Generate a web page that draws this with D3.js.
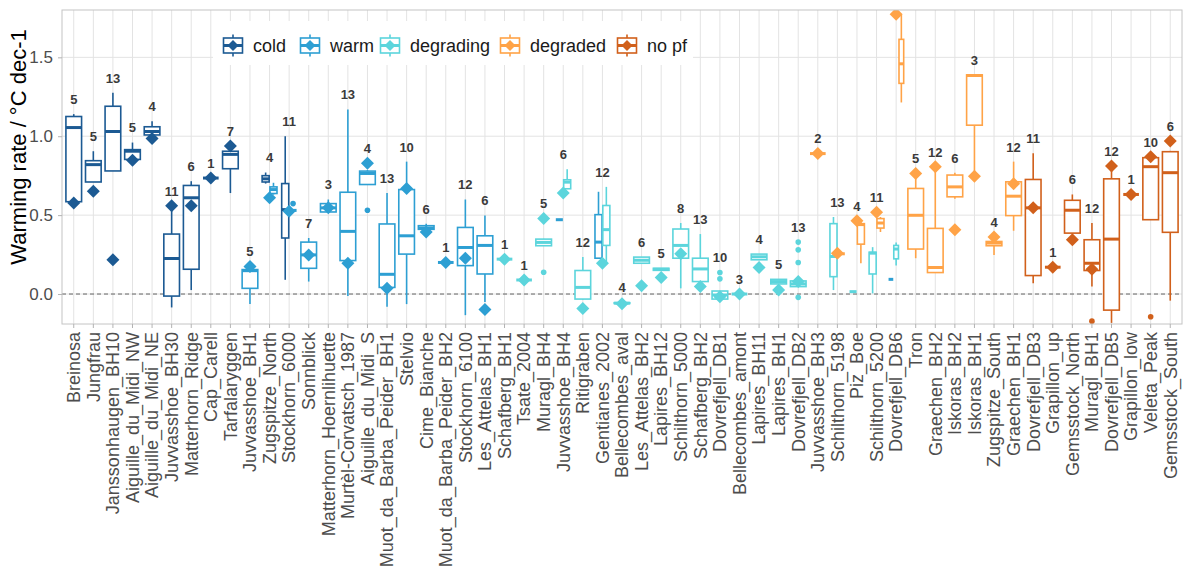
<!DOCTYPE html>
<html>
<head>
<meta charset="utf-8">
<script src="https://cdn.jsdelivr.net/npm/d3@7"></script>
<style>
  body { margin: 0; background: #fff; }
  svg text { font-family: "Liberation Sans", Arial, Helvetica, sans-serif; }
</style>
</head>
<body>
<svg id="chart" width="1184" height="567"></svg>
<script>
const classes = ['cold', 'warm', 'degrading', 'degraded', 'no pf'];
const classColors = ['#1c5a93', '#2d9fd3', '#5cd5dc', '#ffa347', '#d1601b'];

const sites = [
  'Breinosa', 'Jungfrau', 'Janssonhaugen_BH10', 'Aiguille_du_Midi_NW', 'Aiguille_du_Midi_NE',
  'Juvvasshoe_BH30', 'Matterhorn_Ridge', 'Cap_Carell', 'Tarfalaryggen', 'Juvvasshoe_BH1',
  'Zugspitze_North', 'Stockhorn_6000', 'Sonnblick', 'Matterhorn_Hoernlihuette', 'Murtèl-Corvatsch_1987',
  'Aiguille_du_Midi_S', 'Muot_da_Barba_Peider_BH1', 'Stelvio', 'Cime_Bianche', 'Muot_da_Barba_Peider_BH2',
  'Stockhorn_6100', 'Les_Attelas_BH1', 'Schafberg_BH1', 'Tsate_2004', 'Muragl_BH4',
  'Juvvasshoe_BH4', 'Ritigraben', 'Gentianes_2002', 'Bellecombes_aval', 'Les_Attelas_BH2',
  'Lapires_BH12', 'Schilthorn_5000', 'Schafberg_BH2', 'Dovrefjell_DB1', 'Bellecombes_amont',
  'Lapires_BH11', 'Lapires_BH1', 'Dovrefjell_DB2', 'Juvvasshoe_BH3', 'Schilthorn_5198',
  'Piz_Boe', 'Schilthorn_5200', 'Dovrefjell_DB6', 'Tron', 'Graechen_BH2',
  'Iskoras_BH2', 'Iskoras_BH1', 'Zugspitze_South', 'Graechen_BH1', 'Dovrefjell_DB3',
  'Grapillon_up', 'Gemsstock_North', 'Muragl_BH1', 'Dovrefjell_DB5', 'Grapillon_low',
  'Veleta_Peak', 'Gemsstock_South'
];

// number of years per site (label above each site)
const siteCounts = [
  5, 5, 13, 5, 4, 11, 6, 1, 7, 5,
  4, 11, 7, 3, 13, 4, 13, 10, 6, 1,
  12, 6, 1, 1, 5, 6, 12, 12, 4, 6,
  5, 8, 13, 10, 3, 4, 5, 13, 2, 13,
  4, 11, null, 5, 12, 6, 3, 4, 12, 11,
  1, 6, 12, 12, 1, 10, 6
];

// diamond marker per site
const diamondValues = [
  0.577, 0.652, 0.217, 0.847, 0.985, 0.56, 0.56, 0.735, 0.938, 0.174,
  0.61, 0.524, 0.248, 0.546, 0.195, 0.828, 0.036, 0.669, 0.393, 0.2,
  0.227, -0.098, 0.221, 0.089, 0.478, 0.641, -0.091, 0.195, -0.062, 0.053,
  0.104, 0.255, 0.047, -0.017, 0.0, 0.168, 0.025, 0.079, 0.89, 0.258,
  0.465, 0.518, 1.773, 0.764, 0.807, 0.408, 0.747, 0.361, 0.699, 0.546,
  0.17, 0.344, 0.157, 0.811, 0.631, 0.87, 0.97
];
const diamondClasses = [
  'cold', 'cold', 'cold', 'cold', 'cold', 'cold', 'cold', 'cold', 'cold', 'warm',
  'warm', 'warm', 'warm', 'warm', 'warm', 'warm', 'warm', 'warm', 'warm', 'warm',
  'warm', 'warm', 'degrading', 'degrading', 'degrading', 'degrading', 'degrading', 'degrading', 'degrading', 'degrading',
  'degrading', 'degrading', 'degrading', 'degrading', 'degrading', 'degrading', 'degrading', 'degrading', 'degraded', 'degraded',
  'degraded', 'degraded', 'degraded', 'degraded', 'degraded', 'degraded', 'degraded', 'degraded', 'degraded', 'no pf',
  'no pf', 'no pf', 'no pf', 'no pf', 'no pf', 'no pf', 'no pf'
];

// [site, class, lower whisker, q1, median, q3, upper whisker]
const boxStats = [
  ['Breinosa', 'cold', 0.58, 0.585, 1.055, 1.125, 1.14],
  ['Jungfrau', 'cold', 0.71, 0.71, 0.82, 0.845, 0.905],
  ['Janssonhaugen_BH10', 'cold', 0.78, 0.78, 1.03, 1.19, 1.275],
  ['Aiguille_du_Midi_NW', 'cold', 0.85, 0.853, 0.905, 0.915, 0.96],
  ['Aiguille_du_Midi_NE', 'cold', 1.005, 1.008, 1.03, 1.06, 1.095],
  ['Juvvasshoe_BH30', 'cold', -0.085, -0.013, 0.225, 0.38, 0.555],
  ['Matterhorn_Ridge', 'cold', 0.025, 0.157, 0.61, 0.688, 0.715],
  ['Cap_Carell', 'cold', 0.735, 0.735, 0.735, 0.735, 0.735],
  ['Tarfalaryggen', 'cold', 0.64, 0.794, 0.885, 0.905, 0.92],
  ['Juvvasshoe_BH1', 'warm', -0.064, 0.036, 0.148, 0.155, 0.165],
  ['Zugspitze_North', 'cold', 0.70, 0.71, 0.73, 0.75, 0.77],
  ['Zugspitze_North', 'warm', 0.63, 0.637, 0.662, 0.679, 0.705],
  ['Stockhorn_6000', 'cold', 0.09, 0.355, 0.535, 0.70, 1.0],
  ['Stockhorn_6000', 'warm', 0.53, 0.53, 0.53, 0.53, 0.53],
  ['Sonnblick', 'warm', 0.079, 0.163, 0.248, 0.329, 0.355],
  ['Matterhorn_Hoernlihuette', 'warm', 0.52, 0.52, 0.546, 0.573, 0.599],
  ['Murtèl-Corvatsch_1987', 'warm', -0.013, 0.212, 0.397, 0.645, 1.17],
  ['Aiguille_du_Midi_S', 'warm', 0.694, 0.694, 0.764, 0.779, 0.785],
  ['Muot_da_Barba_Peider_BH1', 'warm', -0.081, 0.042, 0.125, 0.444, 0.641],
  ['Stelvio', 'warm', -0.064, 0.253, 0.369, 0.662, 0.839],
  ['Cime_Bianche', 'warm', 0.41, 0.41, 0.418, 0.433, 0.446],
  ['Muot_da_Barba_Peider_BH2', 'warm', 0.2, 0.2, 0.2, 0.2, 0.2],
  ['Stockhorn_6100', 'warm', -0.134, 0.18, 0.295, 0.422, 0.599],
  ['Les_Attelas_BH1', 'warm', -0.05, 0.127, 0.308, 0.369, 0.497],
  ['Schafberg_BH1', 'degrading', 0.221, 0.221, 0.221, 0.221, 0.221],
  ['Tsate_2004', 'degrading', 0.089, 0.089, 0.089, 0.089, 0.089],
  ['Muragl_BH4', 'degrading', 0.306, 0.306, 0.327, 0.348, 0.35],
  ['Juvvasshoe_BH4', 'warm', 0.471, 0.471, 0.471, 0.471, 0.471],
  ['Juvvasshoe_BH4', 'degrading', 0.667, 0.667, 0.709, 0.724, 0.79],
  ['Ritigraben', 'degrading', -0.035, -0.032, 0.042, 0.149, 0.234],
  ['Gentianes_2002', 'warm', 0.227, 0.227, 0.329, 0.503, 0.648],
  ['Gentianes_2002', 'degrading', 0.195, 0.308, 0.408, 0.561, 0.679],
  ['Bellecombes_aval', 'degrading', -0.062, -0.06, -0.058, -0.055, -0.05],
  ['Les_Attelas_BH2', 'degrading', 0.195, 0.195, 0.214, 0.234, 0.234],
  ['Lapires_BH12', 'degrading', 0.15, 0.15, 0.157, 0.163, 0.163],
  ['Schilthorn_5000', 'degrading', 0.036, 0.227, 0.308, 0.412, 0.45],
  ['Schafberg_BH2', 'degrading', 0.07, 0.079, 0.159, 0.227, 0.38],
  ['Dovrefjell_DB1', 'degrading', -0.032, -0.032, -0.006, 0.019, 0.019],
  ['Bellecombes_amont', 'degrading', 0.0, 0.0, 0.0, 0.0, 0.0],
  ['Lapires_BH11', 'degrading', 0.217, 0.217, 0.236, 0.253, 0.253],
  ['Lapires_BH1', 'degrading', 0.064, 0.064, 0.079, 0.093, 0.093],
  ['Dovrefjell_DB2', 'degrading', 0.047, 0.047, 0.064, 0.083, 0.083],
  ['Juvvasshoe_BH3', 'degraded', 0.89, 0.89, 0.89, 0.89, 0.89],
  ['Schilthorn_5198', 'degrading', 0.025, 0.11, 0.238, 0.446, 0.488],
  ['Schilthorn_5198', 'degraded', 0.255, 0.255, 0.255, 0.255, 0.255],
  ['Piz_Boe', 'degrading', 0.015, 0.015, 0.015, 0.015, 0.015],
  ['Piz_Boe', 'degraded', 0.195, 0.316, 0.44, 0.446, 0.461],
  ['Schilthorn_5200', 'degrading', 0.004, 0.127, 0.259, 0.265, 0.297],
  ['Schilthorn_5200', 'degraded', 0.393, 0.418, 0.45, 0.478, 0.488],
  ['Dovrefjell_DB6', 'warm', 0.093, 0.093, 0.093, 0.093, 0.093],
  ['Dovrefjell_DB6', 'degrading', 0.18, 0.223, 0.285, 0.308, 0.327],
  ['Dovrefjell_DB6', 'degraded', 1.214, 1.335, 1.459, 1.614, 1.77],
  ['Tron', 'degraded', 0.227, 0.285, 0.499, 0.669, 0.764],
  ['Graechen_BH2', 'degraded', 0.136, 0.136, 0.168, 0.416, 0.807],
  ['Iskoras_BH2', 'degraded', 0.603, 0.616, 0.679, 0.754, 0.769],
  ['Iskoras_BH1', 'degraded', 0.747, 1.07, 1.385, 1.389, 1.389],
  ['Zugspitze_South', 'degraded', 0.248, 0.306, 0.323, 0.333, 0.36],
  ['Graechen_BH1', 'degraded', 0.401, 0.497, 0.62, 0.711, 0.839],
  ['Dovrefjell_DB3', 'no pf', 0.068, 0.117, 0.546, 0.726, 0.892],
  ['Grapillon_up', 'no pf', 0.17, 0.17, 0.17, 0.17, 0.17],
  ['Gemsstock_North', 'no pf', 0.386, 0.386, 0.531, 0.594, 0.631],
  ['Muragl_BH1', 'no pf', 0.047, 0.149, 0.195, 0.344, 0.45],
  ['Dovrefjell_DB5', 'no pf', -0.183, -0.102, 0.348, 0.73, 0.811],
  ['Grapillon_low', 'no pf', 0.631, 0.631, 0.631, 0.631, 0.631],
  ['Veleta_Peak', 'no pf', 0.471, 0.471, 0.807, 0.864, 0.87],
  ['Gemsstock_South', 'no pf', -0.042, 0.391, 0.769, 0.902, 0.907]
];

// [site, class, value]
const outlierPoints = [
  ['Stockhorn_6000', 'warm', 0.573],
  ['Aiguille_du_Midi_S', 'warm', 0.531],
  ['Muragl_BH4', 'degrading', 0.138],
  ['Dovrefjell_DB1', 'degrading', 0.136],
  ['Dovrefjell_DB1', 'degrading', 0.096],
  ['Dovrefjell_DB2', 'degrading', 0.329],
  ['Dovrefjell_DB2', 'degrading', 0.28],
  ['Dovrefjell_DB2', 'degrading', 0.2],
  ['Dovrefjell_DB2', 'degrading', -0.021],
  ['Muragl_BH1', 'no pf', -0.172],
  ['Veleta_Peak', 'no pf', -0.144]
];

const yTicks = [0, 0.5, 1, 1.5];

const panel = { left: 62, right: 1182, top: 10, bottom: 324 };
const svg = d3.select('#chart');

const x = d3.scaleBand().domain(sites).range([panel.left, panel.right]).paddingInner(0).paddingOuter(0.1);
const y = d3.scaleLinear().domain([-0.19, 1.8]).range([panel.bottom, panel.top]);
const color = d3.scaleOrdinal().domain(classes).range(classColors);
const step = x.step();
const xc = (s) => x(s) + x.bandwidth() / 2;

svg.append('defs').append('clipPath').attr('id', 'panel-clip')
  .append('rect')
  .attr('x', panel.left).attr('y', panel.top)
  .attr('width', panel.right - panel.left).attr('height', panel.bottom - panel.top);

// grid
const grid = svg.append('g');
grid.selectAll('.hgrid')
  .data(yTicks)
  .enter()
  .append('line')
  .attr('x1', panel.left).attr('x2', panel.right)
  .attr('y1', d => y(d)).attr('y2', d => y(d))
  .attr('stroke', '#e3e3e3').attr('stroke-width', 1);
grid.selectAll('.vgrid')
  .data(sites)
  .enter()
  .append('line')
  .attr('x1', d => xc(d)).attr('x2', d => xc(d))
  .attr('y1', panel.top).attr('y2', panel.bottom)
  .attr('stroke', '#e3e3e3').attr('stroke-width', 1);

svg.append('line')
  .attr('x1', panel.left).attr('x2', panel.right)
  .attr('y1', y(0)).attr('y2', y(0))
  .attr('stroke', '#666').attr('stroke-width', 1)
  .attr('stroke-dasharray', '4,3');

// boxes, dodged within each site
const bySite = d3.group(boxStats, d => d[0]);
const boxes = boxStats.map(d => {
  let group = bySite.get(d[0]).slice().sort((a, b) => classes.indexOf(a[1]) - classes.indexOf(b[1]));
  let k = group.length;
  let j = group.indexOf(d);
  let slot = step * 0.8 / k;
  let w = k > 1 ? slot * 0.9 : slot;
  let cx = xc(d[0]) - step * 0.4 + slot * (j + 0.5);
  return { site: d[0], cls: d[1], lo: d[2], q1: d[3], med: d[4], q3: d[5], hi: d[6], cx: cx, w: w };
});
const boxCenter = (site, cls) => boxes.find(b => b.site === site && b.cls === cls).cx;

const marks = svg.append('g').attr('clip-path', 'url(#panel-clip)');

const boxG = marks.selectAll('.box')
  .data(boxes)
  .enter()
  .append('g')
  .attr('class', 'box');

boxG.append('line')
  .attr('x1', d => d.cx).attr('x2', d => d.cx)
  .attr('y1', d => y(d.hi)).attr('y2', d => y(d.lo))
  .attr('stroke', d => color(d.cls)).attr('stroke-width', 1.6);

boxG.append('rect')
  .attr('x', d => d.cx - d.w / 2)
  .attr('y', d => y(d.q3))
  .attr('width', d => d.w)
  .attr('height', d => y(d.q1) - y(d.q3))
  .attr('fill', '#fff')
  .attr('stroke', d => color(d.cls)).attr('stroke-width', 1.6);

boxG.append('line')
  .attr('x1', d => d.cx - d.w / 2).attr('x2', d => d.cx + d.w / 2)
  .attr('y1', d => y(d.med)).attr('y2', d => y(d.med))
  .attr('stroke', d => color(d.cls)).attr('stroke-width', 3);

marks.selectAll('.outlier')
  .data(outlierPoints)
  .enter()
  .append('circle')
  .attr('class', 'outlier')
  .attr('cx', d => boxCenter(d[0], d[1]))
  .attr('cy', d => y(d[2]))
  .attr('r', 2.8)
  .attr('fill', d => color(d[1]));

const diamond = (r) => `M0,${-r}L${r},0L0,${r}L${-r},0Z`;

marks.selectAll('.diamond')
  .data(sites)
  .enter()
  .append('path')
  .attr('class', 'diamond')
  .attr('d', diamond(6.5))
  .attr('transform', (d, i) => `translate(${xc(d)},${y(diamondValues[i])})`)
  .attr('fill', (d, i) => color(diamondClasses[i]));

// count labels above the highest mark of each site
const siteMax = sites.map((s, i) => {
  let vals = [diamondValues[i]];
  boxes.filter(b => b.site === s).forEach(b => vals.push(b.hi));
  outlierPoints.filter(o => o[0] === s).forEach(o => vals.push(o[2]));
  return d3.max(vals);
});

marks.selectAll('.count')
  .data(sites)
  .enter()
  .append('text')
  .attr('class', 'count')
  .attr('x', d => xc(d))
  .attr('y', (d, i) => y(siteMax[i] + 0.093))
  .attr('dy', '0.35em')
  .attr('text-anchor', 'middle')
  .attr('fill', '#3a3a3a')
  .style('font-size', '13px')
  .style('font-weight', 'bold')
  .text((d, i) => siteCounts[i] === null ? '' : siteCounts[i]);

// panel border
svg.append('rect')
  .attr('x', panel.left).attr('y', panel.top)
  .attr('width', panel.right - panel.left).attr('height', panel.bottom - panel.top)
  .attr('fill', 'none').attr('stroke', '#c4c4c4').attr('stroke-width', 1);

// axes
const yAxis = svg.append('g')
  .attr('transform', `translate(${panel.left},0)`)
  .call(d3.axisLeft(y).tickValues(yTicks).tickFormat(d3.format('.1f')).tickSize(4).tickPadding(5));
yAxis.select('.domain').remove();
yAxis.selectAll('line').attr('stroke', '#b3b3b3');
yAxis.selectAll('text').attr('fill', '#4d4d4d').style('font-size', '17px');

const xAxis = svg.append('g')
  .attr('transform', `translate(0,${panel.bottom})`)
  .call(d3.axisBottom(x).tickSize(4));
xAxis.select('.domain').remove();
xAxis.selectAll('line').attr('stroke', '#b3b3b3');
xAxis.selectAll('text')
  .attr('x', -8)
  .attr('y', 0)
  .attr('dy', '0.35em')
  .attr('transform', 'rotate(-90)')
  .attr('fill', '#4d4d4d')
  .style('text-anchor', 'end')
  .style('font-size', '18px');

svg.append('text')
  .attr('transform', 'translate(26,147) rotate(-90)')
  .attr('text-anchor', 'middle')
  .attr('fill', '#000')
  .style('font-size', '22px')
  .text('Warming rate / °C dec-1');

// legend
const legendKeys = [233, 310, 390, 510, 627];
const legend = svg.append('g');
legend.append('rect')
  .attr('x', 213).attr('y', 21).attr('width', 480).attr('height', 44)
  .attr('fill', '#fff');
const keyG = legend.selectAll('.key')
  .data(classes)
  .enter()
  .append('g')
  .attr('transform', (d, i) => `translate(${legendKeys[i]},45.5)`);
keyG.append('line')
  .attr('y1', -11).attr('y2', 11)
  .attr('stroke', d => color(d)).attr('stroke-width', 1.6);
keyG.append('rect')
  .attr('x', -9.5).attr('y', -7.5).attr('width', 19).attr('height', 15)
  .attr('fill', '#fff')
  .attr('stroke', d => color(d)).attr('stroke-width', 1.6);
keyG.append('line')
  .attr('x1', -9.5).attr('x2', 9.5)
  .attr('stroke', d => color(d)).attr('stroke-width', 3);
keyG.append('path')
  .attr('d', diamond(5.5))
  .attr('fill', d => color(d));
keyG.append('text')
  .attr('x', 20)
  .attr('dy', '0.35em')
  .attr('fill', '#1a1a1a')
  .style('font-size', '18px')
  .text(d => d);
</script>
</body>
</html>
